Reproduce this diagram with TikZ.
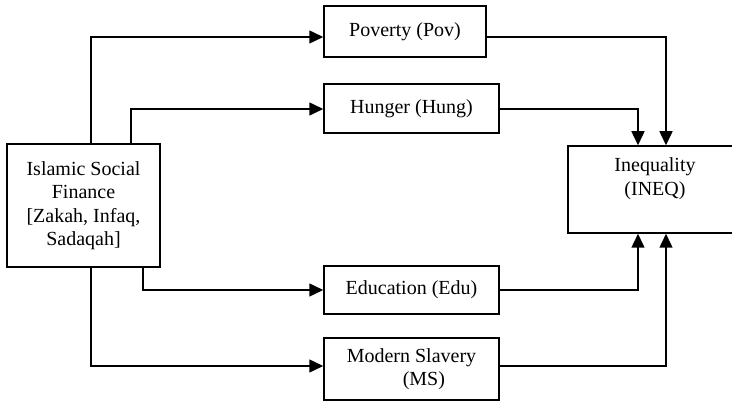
\documentclass[tikz,border=0pt]{standalone}
\usepackage{fontspec}
\setmainfont{Liberation Serif}
\usetikzlibrary{arrows.meta}
\begin{document}
\begin{tikzpicture}[x=1pt,y=-1pt,
  box/.style={draw,line width=1.5pt,rectangle,inner sep=0pt,align=center,
    font=\fontsize{20}{23.5}\selectfont},
  conn/.style={line width=1.5pt,-{Triangle[length=14pt,width=13pt]}}]
\useasboundingbox (0,0) rectangle (732,401);
\node[box,minimum width=153pt,minimum height=123pt] (isf) at (83.5,205.5)
  {Islamic Social\\Finance\\{[}Zakah, Infaq,\\Sadaqah{]}};
\node[box,minimum width=162pt,minimum height=51pt] (pov) at (405,31.5) {Poverty (Pov)};
\node[box,minimum width=175pt,minimum height=49pt] (hung) at (411.5,108.5) {Hunger (Hung)};
\node[box,minimum width=175pt,minimum height=48pt] (edu) at (411.5,290) {Education (Edu)};
\node[box,minimum width=175pt,minimum height=62pt,align=left] (ms) at (411.5,369)
  {Modern Slavery\\\hspace*{2.8em}(MS)};
\node[box,minimum width=174pt,minimum height=87pt] (ineq) at (655,189.5)
  {Inequality\\(INEQ)\\[2pt]};
\draw[conn] (isf.north -| 91,0) |- (pov.west |- 0,37);
\draw[conn] (isf.north -| 131,0) |- (hung.west |- 0,109);
\draw[conn] (isf.south -| 143,0) |- (edu.west |- 0,290);
\draw[conn] (isf.south -| 91,0) |- (ms.west |- 0,366);
\draw[conn] (pov.east |- 0,37) -| (ineq.north -| 666,0);
\draw[conn] (hung.east |- 0,109) -| (ineq.north -| 638,0);
\draw[conn] (edu.east |- 0,290) -| (ineq.south -| 638,0);
\draw[conn] (ms.east |- 0,366) -| (ineq.south -| 666,0);
\end{tikzpicture}
\end{document}
